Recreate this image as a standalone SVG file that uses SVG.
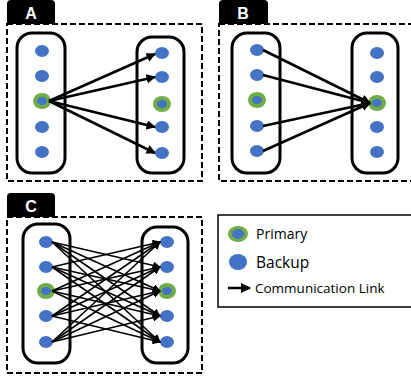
<svg xmlns="http://www.w3.org/2000/svg" width="411" height="379" viewBox="0 0 411 379">
<style>
.tab{fill:#000}
.tabt{fill:#fff;font-family:"Liberation Sans",Arial,sans-serif;font-weight:bold;font-size:16px;text-anchor:middle}
.dash{fill:none;stroke:#000;stroke-width:2;stroke-dasharray:6,3}
.pill{fill:#fff;stroke:#000;stroke-width:3}
.b{fill:#4472c4}
.g{fill:#70ad47}
.thick{stroke:#000;stroke-width:2.6;fill:none}
.thin{stroke:#000;stroke-width:1.6;fill:none}
.lt{font-family:"Open Sans","Noto Sans",sans-serif;fill:#000}
</style>
<defs>
<marker id="ah" viewBox="0 0 10 10" refX="9" refY="5" markerWidth="3.6" markerHeight="3.6" orient="auto" markerUnits="strokeWidth"><path d="M0,0 L10,5 L0,10 z" fill="#000"/></marker>
<marker id="ah2" viewBox="0 0 10 10" refX="9" refY="5" markerWidth="5" markerHeight="5" orient="auto" markerUnits="strokeWidth"><path d="M0,0 L10,5 L0,10 z" fill="#000"/></marker>
<marker id="ah3" viewBox="0 0 10 10" refX="9" refY="5" markerWidth="4.2" markerHeight="4.2" orient="auto" markerUnits="strokeWidth"><path d="M0,0 L10,5 L0,10 z" fill="#000"/></marker>
</defs>
<rect width="411" height="379" fill="#fff"/>

<!-- Panel A -->
<g id="panelA">
<path class="tab" d="M7,24 V4 Q7,0 11,0 H51 Q55,0 55,4 V24 z"/>
<text class="tabt" x="31" y="19">A</text>
<rect class="dash" x="7" y="24" width="195" height="157"/>
<rect class="pill" x="17" y="33" width="48" height="140" rx="15"/>
<rect class="pill" x="137" y="37" width="47" height="136" rx="15"/>
</g>
<g id="A-L1"><ellipse class="b" cx="42" cy="51" rx="7" ry="6"/></g>
<g id="A-L2"><ellipse class="b" cx="42" cy="76" rx="7" ry="6"/></g>
<g id="A-L3"><ellipse class="g" cx="42" cy="101" rx="9" ry="8"/><ellipse class="b" cx="42" cy="101" rx="5" ry="4"/></g>
<g id="A-L4"><ellipse class="b" cx="42" cy="127" rx="7" ry="6"/></g>
<g id="A-L5"><ellipse class="b" cx="42" cy="152" rx="7" ry="6"/></g>
<g id="A-R1"><ellipse class="b" cx="162" cy="53" rx="7" ry="6"/></g>
<g id="A-R2"><ellipse class="b" cx="162" cy="77" rx="7" ry="6"/></g>
<g id="A-R3"><ellipse class="g" cx="162" cy="104" rx="9" ry="8"/><ellipse class="b" cx="162" cy="104" rx="5" ry="4"/></g>
<g id="A-R4"><ellipse class="b" cx="162" cy="127" rx="7" ry="6"/></g>
<g id="A-R5"><ellipse class="b" cx="162" cy="153" rx="7" ry="6"/></g>

<!-- Panel B -->
<g id="panelB">
<path class="tab" d="M219,24 V4 Q219,0 223,0 H264 Q268,0 268,4 V24 z"/>
<text class="tabt" x="243" y="19">B</text>
<rect class="dash" x="219" y="24" width="200" height="157"/>
<rect class="pill" x="232" y="33" width="48" height="140" rx="15"/>
<rect class="pill" x="352" y="33" width="46" height="140" rx="15"/>
</g>
<g id="B-L1"><ellipse class="b" cx="257" cy="50" rx="7" ry="6"/></g>
<g id="B-L2"><ellipse class="b" cx="257" cy="75" rx="7" ry="6"/></g>
<g id="B-L3"><ellipse class="g" cx="257" cy="100" rx="9" ry="8"/><ellipse class="b" cx="257" cy="100" rx="5" ry="4"/></g>
<g id="B-L4"><ellipse class="b" cx="257" cy="126" rx="7" ry="6"/></g>
<g id="B-L5"><ellipse class="b" cx="257" cy="151" rx="7" ry="6"/></g>
<g id="B-R1"><ellipse class="b" cx="377" cy="53" rx="7" ry="6"/></g>
<g id="B-R2"><ellipse class="b" cx="377" cy="77" rx="7" ry="6"/></g>
<g id="B-R3"><ellipse class="g" cx="377" cy="103" rx="9" ry="8"/><ellipse class="b" cx="377" cy="103" rx="5" ry="4"/></g>
<g id="B-R4"><ellipse class="b" cx="377" cy="127" rx="7" ry="6"/></g>
<g id="B-R5"><ellipse class="b" cx="377" cy="152" rx="7" ry="6"/></g>

<!-- Panel C -->
<g id="panelC">
<path class="tab" d="M7,217 V197 Q7,193 11,193 H51 Q55,193 55,197 V217 z"/>
<text class="tabt" x="31" y="212">C</text>
<rect class="dash" x="7" y="217" width="195" height="156"/>
<rect class="pill" x="23" y="224" width="47" height="139" rx="15"/>
<rect class="pill" x="142" y="227" width="46" height="136" rx="15"/>
</g>
<g id="C-L1"><ellipse class="b" cx="46" cy="242" rx="7" ry="6"/></g>
<g id="C-L2"><ellipse class="b" cx="46" cy="267" rx="7" ry="6"/></g>
<g id="C-L3"><ellipse class="g" cx="46" cy="291" rx="9" ry="8"/><ellipse class="b" cx="46" cy="291" rx="5" ry="4"/></g>
<g id="C-L4"><ellipse class="b" cx="46" cy="316" rx="7" ry="6"/></g>
<g id="C-L5"><ellipse class="b" cx="46" cy="342" rx="7" ry="6"/></g>
<g id="C-R1"><ellipse class="b" cx="167" cy="242" rx="7" ry="6"/></g>
<g id="C-R2"><ellipse class="b" cx="167" cy="267" rx="7" ry="6"/></g>
<g id="C-R3"><ellipse class="g" cx="167" cy="291" rx="9" ry="8"/><ellipse class="b" cx="167" cy="291" rx="5" ry="4"/></g>
<g id="C-R4"><ellipse class="b" cx="167" cy="316" rx="7" ry="6"/></g>
<g id="C-R5"><ellipse class="b" cx="167" cy="342" rx="7" ry="6"/></g>

<!-- Connectors -->
<g id="connectors">
<g class="thick" marker-end="url(#ah)">
<line x1="49" y1="101" x2="155" y2="54"/>
<line x1="49" y1="101" x2="155" y2="77"/>
<line x1="49" y1="101" x2="155" y2="127"/>
<line x1="49" y1="101" x2="155" y2="153"/>
<line x1="263" y1="50" x2="370" y2="103"/>
<line x1="263" y1="75" x2="370" y2="103"/>
<line x1="263" y1="126" x2="370" y2="103"/>
<line x1="263" y1="151" x2="370" y2="103"/>
</g>
<g class="thin" marker-end="url(#ah2)">
<line x1="52" y1="242" x2="160" y2="267"/><line x1="52" y1="242" x2="160" y2="291"/><line x1="52" y1="242" x2="160" y2="316"/><line x1="52" y1="242" x2="160" y2="342"/>
<line x1="52" y1="267" x2="160" y2="242"/><line x1="52" y1="267" x2="160" y2="291"/><line x1="52" y1="267" x2="160" y2="316"/><line x1="52" y1="267" x2="160" y2="342"/>
<line x1="52" y1="291" x2="160" y2="242"/><line x1="52" y1="291" x2="160" y2="267"/><line x1="52" y1="291" x2="160" y2="316"/><line x1="52" y1="291" x2="160" y2="342"/>
<line x1="52" y1="316" x2="160" y2="242"/><line x1="52" y1="316" x2="160" y2="267"/><line x1="52" y1="316" x2="160" y2="291"/><line x1="52" y1="316" x2="160" y2="342"/>
<line x1="52" y1="342" x2="160" y2="242"/><line x1="52" y1="342" x2="160" y2="267"/><line x1="52" y1="342" x2="160" y2="291"/><line x1="52" y1="342" x2="160" y2="316"/>
</g>
</g>

<!-- Legend -->
<g id="legend">
<rect x="218" y="215" width="200" height="92" fill="#fff" stroke="#000" stroke-width="1.5"/>
<ellipse class="g" cx="238" cy="234" rx="10" ry="8"/><ellipse class="b" cx="238" cy="234" rx="6" ry="5"/>
<text class="lt" x="256" y="239" font-size="14">Primary</text>
<ellipse class="b" cx="238" cy="262" rx="9" ry="8"/>
<text class="lt" x="256" y="268" font-size="15.5">Backup</text>
<line x1="228" y1="288" x2="250" y2="288" stroke="#000" stroke-width="2.5" marker-end="url(#ah3)"/>
<text class="lt" x="255" y="293" font-size="13.5">Communication Link</text>
</g>
</svg>
